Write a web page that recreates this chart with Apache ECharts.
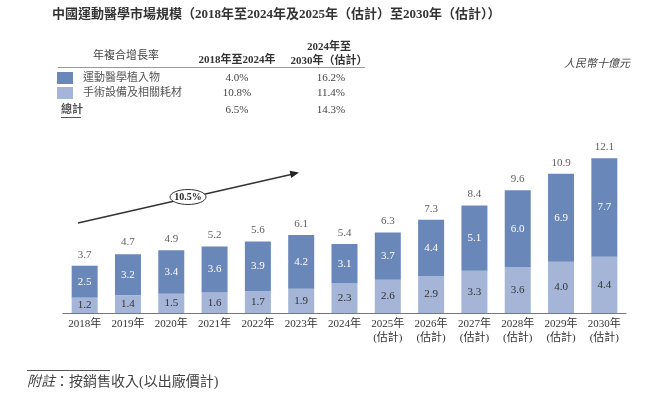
<!DOCTYPE html>
<html><head><meta charset="utf-8">
<script src="https://cdn.jsdelivr.net/npm/echarts@6/dist/echarts.min.js"></script>
<style>html,body{margin:0;padding:0;background:#fff}#c{width:660px;height:393px}</style>
</head><body><div id="c"></div>
<script>
const categories = ['2018年','2019年','2020年','2021年','2022年','2023年','2024年','2025年\n(估計)','2026年\n(估計)','2027年\n(估計)','2028年\n(估計)','2029年\n(估計)','2030年\n(估計)'];
const equipment = [1.2,1.4,1.5,1.6,1.7,1.9,2.3,2.6,2.9,3.3,3.6,4.0,4.4];
const implants = [2.5,3.2,3.4,3.6,3.9,4.2,3.1,3.7,4.4,5.1,6.0,6.9,7.7];
const totals = [3.7,4.7,4.9,5.2,5.6,6.1,5.4,6.3,7.3,8.4,9.6,10.9,12.1];
const seriesNames = ['運動醫學植入物','手術設備及相關耗材'];
const cagrHeaders = ['年複合增長率','2018年至2024年','2024年至\n2030年（估計）'];
const cagrRows = [['運動醫學植入物','4.0%','16.2%'],['手術設備及相關耗材','10.8%','11.4%'],['總計','6.5%','14.3%']];
const overallCagr = '10.5%';

const DARK = '#6A87B9', LIGHT = '#A4B5D7';
const SERIF = '"Liberation Serif","Noto Sans CJK TC",serif';
const chart = echarts.init(document.getElementById('c'));
const fmt = p => Number(p.value).toFixed(1);

const g = [];
// table header
g.push({type:'text', left:93, top:51, style:{text:cagrHeaders[0], font:'11px '+SERIF, fill:'#444'}});
g.push({type:'text', x:237, y:60, style:{text:cagrHeaders[1], font:'bold 11px '+SERIF, fill:'#333', align:'center', verticalAlign:'middle'}});
g.push({type:'text', x:329, y:54, style:{text:cagrHeaders[2], font:'bold 11px '+SERIF, fill:'#333', align:'center', verticalAlign:'middle', lineHeight:14}});
g.push({type:'line', shape:{x1:58,y1:67.5,x2:365,y2:67.5}, style:{stroke:'#999', lineWidth:1}});
const rowY = [78, 93, 110];
cagrRows.forEach((r,i)=>{
  if (i < 2) g.push({type:'rect', shape:{x:57,y:rowY[i]-6,width:16,height:12}, style:{fill:i===0?DARK:LIGHT}});
  g.push({type:'text', x:i<2?83:61, y:rowY[i], style:{text:r[0], font:(i===2?'bold ':'')+'11px '+SERIF, fill:'#555', verticalAlign:'middle'}});
  g.push({type:'text', x:237, y:rowY[i], style:{text:r[1], font:'11px '+SERIF, fill:'#444', align:'center', verticalAlign:'middle'}});
  g.push({type:'text', x:331, y:rowY[i], style:{text:r[2], font:'11px '+SERIF, fill:'#444', align:'center', verticalAlign:'middle'}});
});
g.push({type:'line', shape:{x1:61,y1:117.5,x2:81,y2:117.5}, style:{stroke:'#555', lineWidth:1}});
// unit
g.push({type:'text', right:30, top:59, style:{text:'人民幣十億元', font:'italic 11px '+SERIF, fill:'#444'}});
// arrow
g.push({type:'line', shape:{x1:78,y1:223,x2:291,y2:174.5}, style:{stroke:'#333', lineWidth:1.5}});
g.push({type:'polygon', shape:{points:[[299,172.5],[291.2,178],[289.6,170.8]]}, style:{fill:'#222'}});
g.push({type:'ellipse', shape:{cx:188,cy:197,rx:18,ry:7.5}, style:{fill:'#fff', stroke:'#333', lineWidth:1}});
g.push({type:'text', x:188, y:197, style:{text:overallCagr, font:'bold 10px '+SERIF, fill:'#222', align:'center', verticalAlign:'middle'}});
// footnote
g.push({type:'line', shape:{x1:27,y1:370.5,x2:110,y2:370.5}, style:{stroke:'#555', lineWidth:1}});
g.push({type:'text', x:27, y:382, style:{text:'{i|附註}{n|：按銷售收入(以出廠價計)}', verticalAlign:'middle',
  rich:{i:{font:'italic 14px '+SERIF, fill:'#444'}, n:{font:'14px '+SERIF, fill:'#444'}}}});

chart.setOption({
  animation:false,
  title:{text:'中國運動醫學市場規模（2018年至2024年及2025年（估計）至2030年（估計））', left:52, top:8, padding:0,
    textStyle:{fontFamily:SERIF, fontSize:13, fontWeight:'bold', color:'#333'}},
  grid:{left:63, right:34, top:134, bottom:80},
  xAxis:{type:'category', data:categories,
    axisLine:{lineStyle:{color:'#777', width:1}}, axisTick:{show:false},
    axisLabel:{fontFamily:SERIF, fontSize:11, color:'#333', margin:4, lineHeight:14, interval:0}},
  yAxis:{type:'value', min:0, max:14, show:false, splitLine:{show:false}},
  series:[
    {name:seriesNames[1], type:'bar', stack:'a', data:equipment, barWidth:26, itemStyle:{color:LIGHT},
      label:{show:true, position:'inside', fontFamily:SERIF, fontSize:11, color:'#333', formatter:fmt}},
    {name:seriesNames[0], type:'bar', stack:'a', data:implants, barWidth:26, itemStyle:{color:DARK},
      label:{show:true, position:'inside', fontFamily:SERIF, fontSize:11, color:'#fff', formatter:fmt}},
    {type:'scatter', data:totals, symbolSize:1, itemStyle:{color:'rgba(0,0,0,0)'},
      label:{show:true, position:'top', distance:5, fontFamily:SERIF, fontSize:11, color:'#333', formatter:fmt}}
  ],
  graphic:g
});
</script></body></html>
